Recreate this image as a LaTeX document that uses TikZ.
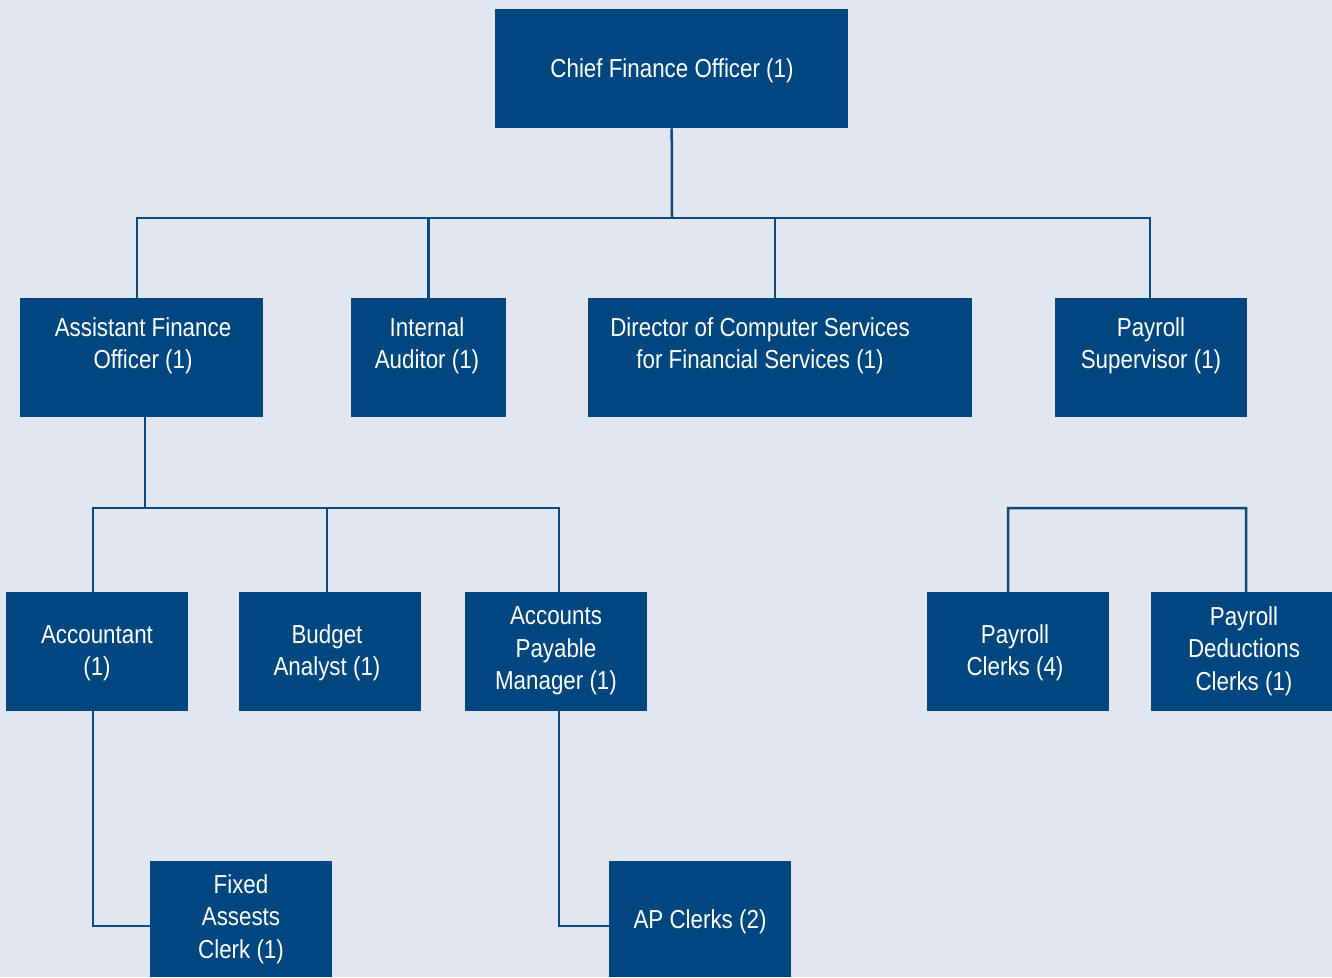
\documentclass[tikz,border=0pt]{standalone}
\usepackage{fontspec}
\setmainfont[FakeStretch=0.86]{Liberation Sans}
\definecolor{bgc}{HTML}{E1E6F0}
\definecolor{boxc}{HTML}{00467F}
\definecolor{linec}{HTML}{0A4A80}
\tikzset{
  orgbox/.style={fill=boxc, draw=none, inner sep=0pt, anchor=north west},
  orgtxt/.style={text=white, align=center, inner sep=0pt, font=\fontsize{26}{32.5}\selectfont},
  conn/.style={draw=linec, line width=2.5pt}
}
\begin{document}
\begin{tikzpicture}[x=1pt,y=-1pt]
\fill[bgc] (0,0) rectangle (1332,977);
\useasboundingbox (0,0) rectangle (1332,977);
% boxes
\node[orgbox, minimum width=353pt, minimum height=119pt] (cfo) at (495,9) {};
\node[orgbox, minimum width=243pt, minimum height=119pt] (afo) at (20,298) {};
\node[orgbox, minimum width=155pt, minimum height=119pt] (ia) at (351,298) {};
\node[orgbox, minimum width=384pt, minimum height=119pt] (dir) at (588,298) {};
\node[orgbox, minimum width=192pt, minimum height=119pt] (ps) at (1055,298) {};
\node[orgbox, minimum width=182pt, minimum height=119pt] (acc) at (6,592) {};
\node[orgbox, minimum width=182pt, minimum height=119pt] (ba) at (239,592) {};
\node[orgbox, minimum width=182pt, minimum height=119pt] (apm) at (465,592) {};
\node[orgbox, minimum width=182pt, minimum height=119pt] (pc) at (927,592) {};
\node[orgbox, minimum width=181pt, minimum height=119pt] (pdc) at (1151,592) {};
\node[orgbox, minimum width=182pt, minimum height=116pt] (fa) at (150,861) {};
\node[orgbox, minimum width=182pt, minimum height=116pt] (apc) at (609,861) {};
% texts
\node[orgtxt] (cfo-t) at (672,71) {Chief Finance Officer (1)};
\node[orgtxt] (afo-t) at (143,346) {Assistant Finance\\Officer (1)};
\node[orgtxt] (ia-t) at (427,346) {Internal\\Auditor (1)};
\node[orgtxt] (dir-t) at (760,346) {Director of Computer Services\\for Financial Services (1)};
\node[orgtxt] (ps-t) at (1151,346) {Payroll\\Supervisor (1)};
\node[orgtxt] (acc-t) at (97,653) {Accountant\\(1)};
\node[orgtxt] (ba-t) at (327,653) {Budget\\Analyst (1)};
\node[orgtxt] (apm-t) at (556,651) {Accounts\\Payable\\Manager (1)};
\node[orgtxt] (pc-t) at (1015,653) {Payroll\\Clerks (4)};
\node[orgtxt] (pdc-t) at (1244,651) {Payroll\\Deductions\\Clerks (1)};
\node[orgtxt] (fa-t) at (241,919) {Fixed\\Assests\\Clerk (1)};
\node[orgtxt] (apc-t) at (700,922) {AP Clerks (2)};
% connectors
\coordinate (j1) at (672,218);
\draw[conn] (cfo.south) -- (j1);
\draw[conn] ([xshift=-4.5pt]afo.north) |- (j1) -| ([xshift=-1pt]ps.north);
\draw[conn] (ia.north) -- (ia.north |- j1);
\draw[conn] ([xshift=-5pt]dir.north) -- ([xshift=-5pt]dir.north |- j1);
\coordinate (j2) at (145,508);
\draw[conn] (afo.south -| j2) -- (j2);
\draw[conn] ([xshift=-4pt]acc.north) |- (j2) -| ([xshift=3pt]apm.north);
\draw[conn] ([xshift=-3pt]ba.north) -- ([xshift=-3pt]ba.north |- j2);
\coordinate (j3) at (1008,508);
\draw[conn] ([xshift=-10pt]pc.north) -- (j3) -| ([xshift=4.5pt]pdc.north);
\draw[conn] ([xshift=-4pt]acc.south) |- ([yshift=-7pt]fa.west);
\draw[conn] ([xshift=3pt]apm.south) |- ([yshift=-7pt]apc.west);
\end{tikzpicture}
\end{document}
